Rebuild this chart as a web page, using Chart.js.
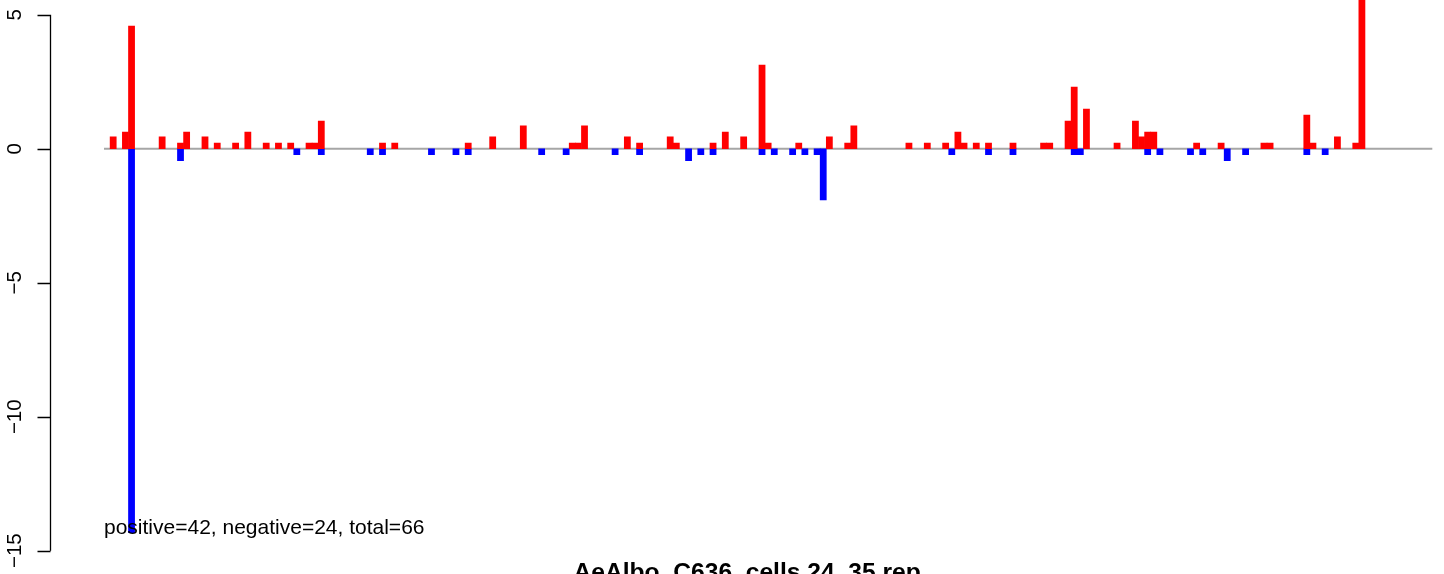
<!DOCTYPE html>
<html>
<head>
<meta charset="utf-8">
<script src="https://cdn.jsdelivr.net/npm/chart.js@4"></script>
<style>
html,body{margin:0;padding:0;background:#fff;overflow:hidden;}
canvas{display:block;}
</style>
</head>
<body>
<canvas id="c" width="1444" height="574"></canvas>
<script>
// ---- data ----
const binCount = 217;
const positiveIdx = [1,3,4,9,12,13,16,18,21,23,26,28,30,33,34,35,
  45,47,59,63,68,
  76,77,78,85,87,92,93,99,101,104,107,108,113,118,121,122,
  131,134,137,139,140,142,144,148,
  153,154,157,158,160,165,168,169,170,171,178,182,189,190,
  196,197,201,204,205];
const positiveVal = [0.44,0.62,4.58,0.44,0.21,0.62,0.44,0.21,0.21,0.62,0.21,0.21,0.21,0.21,0.21,1.03,
  0.21,0.21,0.21,0.44,0.85,
  0.21,0.21,0.85,0.44,0.21,0.44,0.21,0.21,0.62,0.44,3.12,0.21,0.21,0.44,0.21,0.85,
  0.21,0.21,0.21,0.62,0.21,0.21,0.21,0.21,
  0.21,0.21,1.03,2.30,1.48,0.21,1.03,0.44,0.62,0.62,0.21,0.21,0.21,0.21,
  1.26,0.21,0.44,0.21,6.2];
const negativeIdx = [4,12,31,35,43,45,53,57,59,71,75,83,87,95,97,99,107,109,112,114,116,117,
  138,144,148,158,159,170,172,177,179,183,186,196,199];
const negativeVal = [-14.33,-0.45,-0.22,-0.22,-0.22,-0.22,-0.22,-0.22,-0.22,-0.22,-0.22,-0.22,-0.22,-0.45,-0.22,-0.22,-0.22,-0.22,-0.22,-0.22,-0.22,-1.91,
  -0.22,-0.22,-0.22,-0.22,-0.22,-0.22,-0.22,-0.22,-0.22,-0.45,-0.22,-0.22,-0.22];
const yTicks = [5, 0, -5, -10, -15];
const yTickLabels = ['5', '0', '\u22125', '\u221210', '\u221215'];
const summaryText = 'positive=42, negative=24, total=66';
const titleText = 'AeAlbo_C636_cells 24_35 rep';

// ---- build library tables ----
const categories = [];
for (let i = 0; i < binCount; i++) categories.push(String(i + 1));
const posData = new Array(binCount).fill(null);
positiveIdx.forEach((k, j) => { posData[k] = positiveVal[j]; });
const negData = new Array(binCount).fill(null);
negativeIdx.forEach((k, j) => { negData[k] = negativeVal[j]; });

const FONT = '"Liberation Sans", Arial, Helvetica, sans-serif';

const rAxisPlugin = {
  id: 'rAxis',
  beforeDatasetsDraw(chart) {
    const ctx = chart.ctx, a = chart.chartArea, y = chart.scales.y;
    const y0 = y.getPixelForValue(0);
    ctx.save();
    ctx.strokeStyle = '#a6a6a6';
    ctx.lineWidth = 2;
    ctx.beginPath();
    ctx.moveTo(a.left, y0);
    ctx.lineTo(a.right, y0);
    ctx.stroke();
    ctx.restore();
  },
  afterDraw(chart) {
    const ctx = chart.ctx, a = chart.chartArea, y = chart.scales.y;
    const axisX = a.left - 53.5;
    ctx.save();
    ctx.strokeStyle = '#000';
    ctx.lineWidth = 1.3;
    ctx.beginPath();
    ctx.moveTo(axisX, y.getPixelForValue(yTicks[0]));
    ctx.lineTo(axisX, y.getPixelForValue(yTicks[yTicks.length - 1]));
    yTicks.forEach(v => {
      const py = Math.round(y.getPixelForValue(v)) + 0.5;
      ctx.moveTo(axisX, py);
      ctx.lineTo(axisX - 13, py);
    });
    ctx.stroke();
    ctx.fillStyle = '#000';
    ctx.font = '20.5px ' + FONT;
    ctx.textAlign = 'center';
    ctx.textBaseline = 'alphabetic';
    yTicks.forEach((v, i) => {
      const py = y.getPixelForValue(v);
      ctx.save();
      ctx.translate(axisX - 29.5, py);
      ctx.rotate(-Math.PI / 2);
      ctx.fillText(yTickLabels[i], 0, 0);
      ctx.restore();
    });
    // summary text
    ctx.font = '21px ' + FONT;
    ctx.textAlign = 'left';
    ctx.fillText(summaryText, a.left, y.getPixelForValue(-14.38));
    // title (cut by the bottom edge as in the reference)
    ctx.font = 'bold 24.6px ' + FONT;
    ctx.textAlign = 'center';
    ctx.fillText(titleText, (a.left + a.right) / 2 - 21, chart.height + 5.5);
    ctx.restore();
  }
};

new Chart(document.getElementById('c'), {
  type: 'bar',
  data: {
    labels: categories,
    datasets: [
      { label: 'positive', data: posData, backgroundColor: '#ff0000', borderWidth: 0 },
      { label: 'negative', data: negData, backgroundColor: '#0000ff', borderWidth: 0 }
    ]
  },
  options: {
    responsive: false,
    animation: false,
    devicePixelRatio: 1,
    barPercentage: 1,
    categoryPercentage: 1,
    layout: { padding: { left: 104, right: 11.7, top: 0, bottom: 23.3 } },
    plugins: { legend: { display: false }, tooltip: { enabled: false }, title: { display: false } },
    scales: {
      x: { display: false, stacked: true, offset: true },
      y: { display: false, stacked: true, min: -15, max: 5.55 }
    }
  },
  plugins: [rAxisPlugin]
});
</script>
</body>
</html>
